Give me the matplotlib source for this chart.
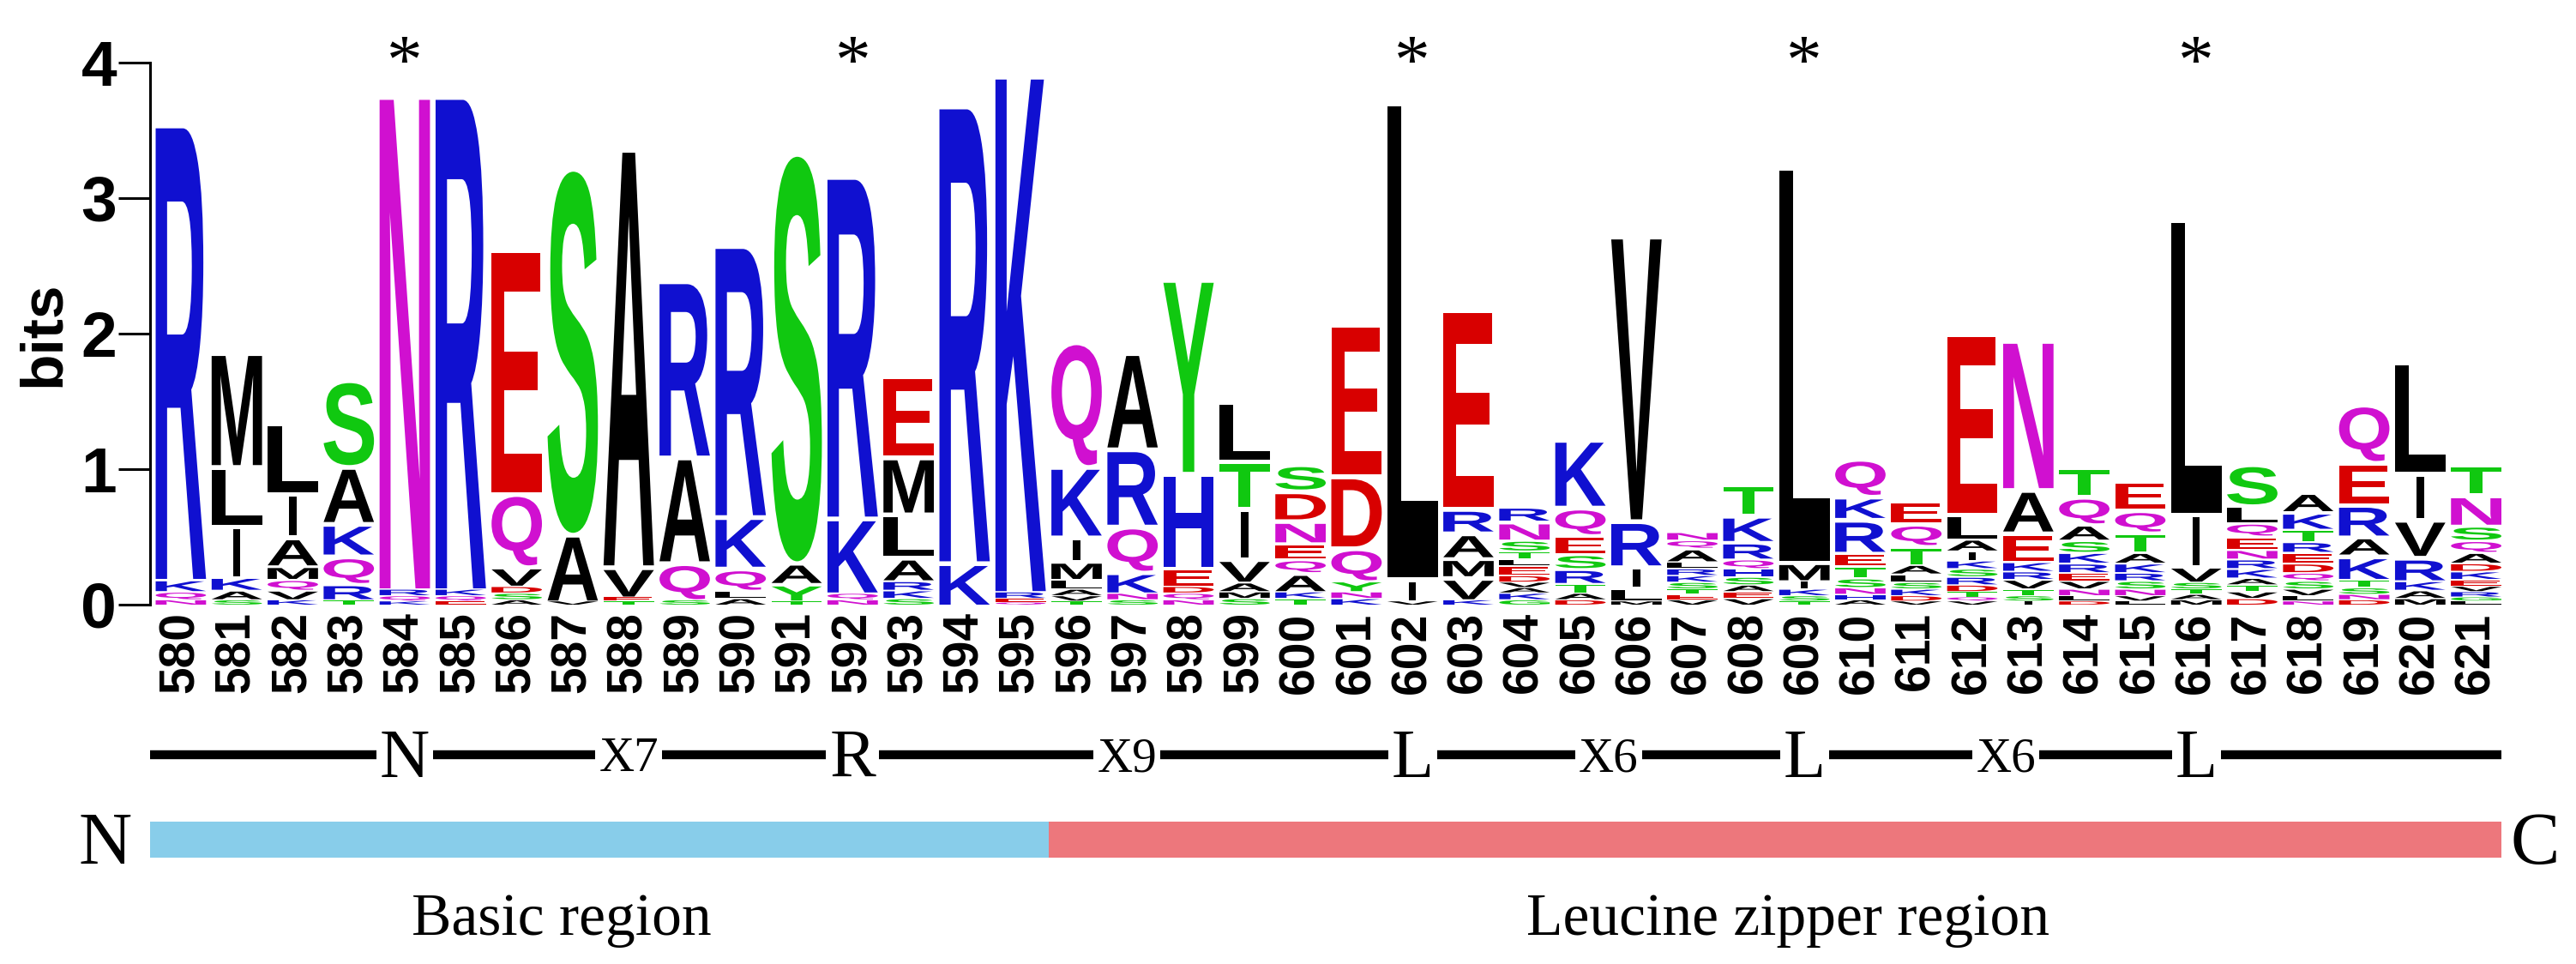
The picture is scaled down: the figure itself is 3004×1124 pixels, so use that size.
import matplotlib
matplotlib.use("Agg")
import matplotlib.pyplot as plt
from matplotlib.textpath import TextPath
from matplotlib.patches import PathPatch, Rectangle
from matplotlib.font_manager import FontProperties
from matplotlib.transforms import Affine2D

plt.rcParams['font.family'] = ['Liberation Sans', 'DejaVu Sans']

positions = list(range(580, 622))

# letters of each column, top to bottom, and their heights in bits
col_letters = [
    "RKQN", "MLIKAS", "LIAMQVK", "SAKQRT", "NRQK", "RKQE", "EQVDSA", "SAV",
    "AVET", "RAQS", "RKQLA", "SAYT", "RKQN", "EMLARKS", "RK", "KREQ",
    "QKIMLAVT", "ARQKNS", "YHEDQN", "LTIVAMS", "SDNEQAKT", "EDQYNK", "LIV",
    "ERAMVK", "RNSTLEDVAKG", "KQESRTAD", "VRILM", "NQALRKSTEV", "TKRQHSAEV",
    "LMIKST", "QKRETSNHA", "EQTALSKDV", "ELAIKSRDTQV", "NAEKRVTSI",
    "TQASKREVNLD", "EQTAKRSNVL", "LIVSTAM", "SLQENRKATVD", "AKTREDQSVLN",
    "QERAKTSND", "LIVRKAM", "TNSQADKEVRGL",
]
col_bits = [
    [3.36, 0.09, 0.06, 0.04],
    [0.84, 0.44, 0.38, 0.10, 0.07, 0.04],
    [0.52, 0.32, 0.22, 0.10, 0.08, 0.07, 0.04],
    [0.64, 0.42, 0.24, 0.21, 0.12, 0.04],
    [3.64, 0.05, 0.04, 0.03],
    [3.64, 0.05, 0.04, 0.03],
    [1.80, 0.54, 0.15, 0.05, 0.05, 0.04],
    [2.70, 0.50, 0.03],
    [3.08, 0.23, 0.03, 0.03],
    [1.30, 0.78, 0.28, 0.04],
    [2.00, 0.38, 0.17, 0.06, 0.05],
    [3.02, 0.16, 0.13, 0.03],
    [2.52, 0.56, 0.05, 0.04],
    [0.60, 0.42, 0.32, 0.18, 0.07, 0.06, 0.05],
    [3.37, 0.32],
    [3.81, 0.05, 0.03, 0.02],
    [0.92, 0.52, 0.18, 0.14, 0.07, 0.05, 0.04, 0.03],
    [0.71, 0.57, 0.34, 0.16, 0.05, 0.04],
    [1.43, 0.70, 0.14, 0.05, 0.05, 0.04],
    [0.44, 0.35, 0.37, 0.18, 0.07, 0.05, 0.05],
    [0.20, 0.22, 0.17, 0.12, 0.10, 0.14, 0.05, 0.05],
    [1.12, 0.53, 0.25, 0.08, 0.05, 0.05],
    [3.51, 0.17, 0.03],
    [1.47, 0.18, 0.19, 0.14, 0.17, 0.04],
    [0.11, 0.14, 0.08, 0.06, 0.05, 0.07, 0.05, 0.04, 0.04, 0.05, 0.04],
    [0.50, 0.21, 0.14, 0.11, 0.11, 0.07, 0.05, 0.04],
    [2.10, 0.34, 0.16, 0.10, 0.03],
    [0.06, 0.06, 0.10, 0.05, 0.05, 0.05, 0.05, 0.04, 0.04, 0.04],
    [0.23, 0.20, 0.13, 0.07, 0.06, 0.06, 0.05, 0.05, 0.05],
    [2.92, 0.14, 0.06, 0.05, 0.04, 0.03],
    [0.28, 0.17, 0.25, 0.10, 0.09, 0.07, 0.05, 0.04, 0.04],
    [0.17, 0.17, 0.14, 0.07, 0.06, 0.05, 0.05, 0.04, 0.03],
    [1.33, 0.19, 0.09, 0.07, 0.06, 0.06, 0.06, 0.05, 0.04, 0.03, 0.03],
    [1.10, 0.32, 0.22, 0.07, 0.06, 0.07, 0.05, 0.04, 0.03],
    [0.22, 0.21, 0.12, 0.09, 0.08, 0.07, 0.06, 0.06, 0.05, 0.04, 0.03],
    [0.22, 0.17, 0.15, 0.08, 0.07, 0.06, 0.06, 0.05, 0.04, 0.03],
    [2.17, 0.39, 0.12, 0.05, 0.04, 0.04, 0.04],
    [0.31, 0.13, 0.10, 0.10, 0.07, 0.07, 0.07, 0.05, 0.05, 0.05, 0.05],
    [0.15, 0.13, 0.09, 0.08, 0.08, 0.07, 0.06, 0.06, 0.05, 0.04, 0.03],
    [0.43, 0.31, 0.24, 0.14, 0.18, 0.06, 0.05, 0.04, 0.04],
    [0.82, 0.34, 0.28, 0.18, 0.07, 0.06, 0.05],
    [0.23, 0.23, 0.11, 0.09, 0.08, 0.06, 0.06, 0.05, 0.04, 0.04, 0.03, 0.03],
]

conserved = [584, 592, 602, 609, 616]

motif_labels = ["N", "X7", "R", "X9", "L", "X6", "L", "X6", "L"]
motif_at = [584, 588, 592, 596.9, 602, 605.5, 609, 612.6, 616]

region_names = ["Basic region", "Leucine zipper region"]
region_start = [579.45, 595.5]
region_end = [595.5, 621.45]
region_label_at = [586.8, 608.7]
region_colors = ["#88CDEA", "#ED777C"]

colors = {}
for c in "KRH":
    colors[c] = "#1010D0"
for c in "DE":
    colors[c] = "#D80000"
for c in "STYGC":
    colors[c] = "#10C810"
for c in "NQ":
    colors[c] = "#D010D0"

glyph_font = FontProperties(family="Liberation Sans", weight="bold")


def draw_letter(ax, ch, x, y, h):
    path = TextPath((0, 0), ch, size=1, prop=glyph_font)
    ext = path.get_extents()
    w = 0.13 if ch == "I" else 0.9
    gh = h - min(0.035, 0.2 * h)
    t = (Affine2D().translate(-ext.x0, -ext.y0)
         .scale(w / ext.width, gh / ext.height)
         .translate(x - w / 2, y))
    ax.add_patch(PathPatch(t.transform_path(path), fc=colors.get(ch, "black"),
                           ec="none", lw=0))


W, H = 3004, 1124
fig = plt.figure(figsize=(W / 100, H / 100), dpi=100)
left = 175 / W
width = (2917 - 175) / W
ax = fig.add_axes([left, 1 - 705 / H, width, (705 - 73) / H])

for pos, letters, bits in zip(positions, col_letters, col_bits):
    y = 0
    for ch, h in reversed(list(zip(letters, bits))):
        draw_letter(ax, ch, pos, y, h)
        y += h

ax.set_xlim(579.45, 621.45)
ax.set_ylim(0, 4)
ax.set_xticks(positions)
ax.set_xticklabels([str(p) for p in positions], rotation=90,
                   fontsize=41, fontweight="bold")
ax.set_yticks([0, 1, 2, 3, 4])
ax.set_yticklabels(["0", "1", "2", "3", "4"], fontsize=54, fontweight="bold")
ax.tick_params(axis="x", length=0, pad=6)
ax.tick_params(axis="y", length=27, width=2.2, pad=1)
for s in ["top", "right", "bottom"]:
    ax.spines[s].set_visible(False)
ax.spines["left"].set_linewidth(2.2)
ax.set_ylabel("bits", fontsize=50, fontweight="bold", labelpad=8)

for p in conserved:
    ax.text(p, 3.85, "*", ha="center", va="baseline", fontsize=60,
            family="Liberation Serif", clip_on=False)

# motif line and domain bar underneath
ax2 = fig.add_axes([left, 0, width, (H - 820) / H])
ax2.set_xlim(579.45, 621.45)
ax2.set_ylim(H, 820)
ax2.axis("off")

ax2.plot([579.45, 621.45], [880, 880], color="black", lw=7.5,
         solid_capstyle="butt")
for lab, x in zip(motif_labels, motif_at):
    big = not lab.startswith("X")
    ax2.text(x, 906 if big else 899, lab, ha="center", va="baseline",
             fontsize=58 if big else 41, family="Liberation Serif",
             bbox=dict(fc="white", ec="none", pad=3))

for x0, x1, col in zip(region_start, region_end, region_colors):
    ax2.add_patch(Rectangle((x0, 958), x1 - x0, 42, fc=col, ec="none"))
ax2.text(578.65, 1007, "N", ha="center", va="baseline", fontsize=62,
         family="Liberation Serif", clip_on=False)
ax2.text(622.05, 1007, "C", ha="center", va="baseline", fontsize=62,
         family="Liberation Serif", clip_on=False)
for name, x in zip(region_names, region_label_at):
    ax2.text(x, 1090, name, ha="center", va="baseline", fontsize=50,
             family="Liberation Serif")

fig.savefig("out.png", dpi=100)
